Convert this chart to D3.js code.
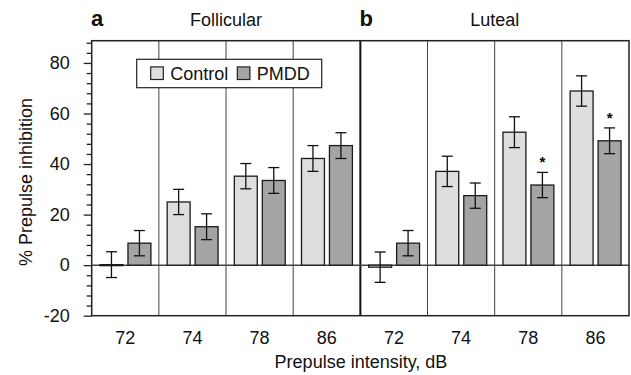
<!DOCTYPE html>
<html>
<head>
<meta charset="utf-8">
<script src="https://cdn.jsdelivr.net/npm/d3@7"></script>
<style>
  body { margin: 0; background: #fff; }
  svg { display: block; font-family: "Liberation Sans", Arial, Helvetica, sans-serif; }
</style>
</head>
<body>
<svg id="chart"></svg>
<script>
// values
const phases = ["Follicular", "Luteal"];
const panelLetters = ["a", "b"];
const intensities = ["72", "74", "78", "86"];
const groups = ["Control", "PMDD"];

const controlFollicular = [0.2, 25.0, 35.2, 42.2];
const controlFollicularErr = [5.1, 5.0, 5.0, 5.1];
const pmddFollicular = [8.7, 15.2, 33.5, 47.3];
const pmddFollicularErr = [5.0, 5.1, 5.1, 5.1];

const controlLuteal = [-0.8, 37.1, 52.6, 68.9];
const controlLutealErr = [6.0, 6.0, 6.1, 6.0];
const pmddLuteal = [8.7, 27.5, 31.7, 49.2];
const pmddLutealErr = [5.0, 5.0, 5.0, 5.1];
const pmddLutealSig = [false, false, true, true];

const yTicks = [-20, 0, 20, 40, 60, 80];

const width = 631, height = 375;
const margin = {left: 91.7, right: 2, top: 40.7, bottom: 59.3};

const svg = d3.select("#chart").attr("width", width).attr("height", height);

// build rows
const rows = [];
phases.forEach((ph, p) => {
  const cm = p === 0 ? controlFollicular : controlLuteal;
  const ce = p === 0 ? controlFollicularErr : controlLutealErr;
  const pm = p === 0 ? pmddFollicular : pmddLuteal;
  const pe = p === 0 ? pmddFollicularErr : pmddLutealErr;
  intensities.forEach((db, i) => {
    rows.push({key: ph + db, phase: ph, db: db, group: "Control", value: cm[i], err: ce[i], sig: false});
    rows.push({key: ph + db, phase: ph, db: db, group: "PMDD", value: pm[i], err: pe[i], sig: p === 1 && pmddLutealSig[i]});
  });
});
const keys = [];
phases.forEach(ph => intensities.forEach(db => keys.push(ph + db)));

const x0 = d3.scaleBand().domain(keys).range([margin.left, width - margin.right]);
const x1 = d3.scaleBand().domain(groups).range([8.3, 59.2]).paddingInner(0.18);
const y = d3.scaleLinear().domain([-20, 88.8]).range([height - margin.bottom, margin.top]);
const color = d3.scaleOrdinal().domain(groups).range(["#dedede", "#a4a4a4"]);

const x0l = x0.range()[0], x0r = x0.range()[1];

// separators
svg.append("g").selectAll("line")
  .data(keys.slice(1))
  .join("line")
  .attr("x1", d => x0(d)).attr("x2", d => x0(d))
  .attr("y1", y.range()[1]).attr("y2", y.range()[0])
  .attr("stroke", (d, i) => i === 3 ? "#111" : "#444")
  .attr("stroke-width", (d, i) => i === 3 ? 2 : 1);

// zero line
svg.append("line")
  .attr("x1", x0l).attr("x2", x0r)
  .attr("y1", y(0)).attr("y2", y(0))
  .attr("stroke", "#444").attr("stroke-width", 1.5);

// bars
const bar = svg.append("g").selectAll("g")
  .data(rows)
  .join("g")
  .attr("transform", d => `translate(${x0(d.key) + x1(d.group)},0)`);

bar.append("rect")
  .attr("y", d => y(Math.max(0, d.value)))
  .attr("width", x1.bandwidth())
  .attr("height", d => Math.max(1, Math.abs(y(d.value) - y(0))))
  .attr("fill", d => color(d.group))
  .attr("stroke", "#1a1a1a")
  .attr("stroke-width", 1.3);

// error bars
const cx = x1.bandwidth() / 2, cap = 5.5;
bar.append("line")
  .attr("x1", cx).attr("x2", cx)
  .attr("y1", d => y(d.value + d.err)).attr("y2", d => y(d.value - d.err))
  .attr("stroke", "#111").attr("stroke-width", 1.3);
bar.append("line")
  .attr("x1", cx - cap).attr("x2", cx + cap)
  .attr("y1", d => y(d.value + d.err)).attr("y2", d => y(d.value + d.err))
  .attr("stroke", "#111").attr("stroke-width", 1.3);
bar.append("line")
  .attr("x1", cx - cap).attr("x2", cx + cap)
  .attr("y1", d => y(d.value - d.err)).attr("y2", d => y(d.value - d.err))
  .attr("stroke", "#111").attr("stroke-width", 1.3);

// significance stars
bar.filter(d => d.sig).append("text")
  .attr("x", cx)
  .attr("y", d => y(d.value + d.err) - 5)
  .attr("text-anchor", "middle")
  .attr("font-size", 15)
  .attr("font-weight", "bold")
  .text("*");

// frame
svg.append("rect")
  .attr("x", x0l).attr("y", y.range()[1])
  .attr("width", x0r - x0l).attr("height", y.range()[0] - y.range()[1])
  .attr("fill", "none").attr("stroke", "#222").attr("stroke-width", 1.5);

// y axis
const yaxis = svg.append("g")
  .attr("transform", `translate(${x0l},0)`)
  .call(d3.axisLeft(y).tickValues(yTicks).tickSize(8).tickPadding(14).tickFormat(d => String(d)));
yaxis.select(".domain").remove();
yaxis.selectAll("line").attr("stroke", "#222").attr("stroke-width", 1.3);
yaxis.selectAll("text").attr("font-size", 18).attr("fill", "#111").attr("font-family", null);

const minor = svg.append("g")
  .attr("transform", `translate(${x0l},0)`)
  .call(d3.axisLeft(y).tickValues(d3.range(-20, 89, 4).filter(v => v % 20 !== 0)).tickSize(5).tickFormat(""));
minor.select(".domain").remove();
minor.selectAll("line").attr("stroke", "#222").attr("stroke-width", 1.3);

// x axis labels
const xaxis = svg.append("g")
  .attr("transform", `translate(0,${y.range()[0]})`)
  .call(d3.axisBottom(x0).tickSize(0).tickPadding(15.5).tickFormat(k => k.replace(/^\D+/, "")));
xaxis.select(".domain").remove();
xaxis.selectAll("text").attr("font-size", 18).attr("fill", "#111").attr("font-family", null);

// axis titles
svg.append("text")
  .attr("x", 361).attr("y", 368)
  .attr("text-anchor", "middle")
  .attr("font-size", 18).attr("fill", "#111")
  .text("Prepulse intensity, dB");

svg.append("text")
  .attr("transform", "rotate(-90)")
  .attr("x", -182).attr("y", 32)
  .attr("text-anchor", "middle")
  .attr("font-size", 18).attr("fill", "#111")
  .text("% Prepulse inhibition");

// panel titles
phases.forEach((ph, p) => {
  const left = x0(ph + intensities[0]);
  const right = x0(ph + intensities[3]) + x0.bandwidth();
  svg.append("text")
    .attr("x", (left + right) / 2).attr("y", 26)
    .attr("text-anchor", "middle")
    .attr("font-size", 18).attr("fill", "#111")
    .text(ph);
});
svg.append("text").attr("x", 91).attr("y", 26)
  .attr("font-size", 22).attr("font-weight", "bold").attr("fill", "#111")
  .text(panelLetters[0]);
svg.append("text").attr("x", 359.5).attr("y", 26)
  .attr("font-size", 22).attr("font-weight", "bold").attr("fill", "#111")
  .text(panelLetters[1]);

// legend
const legend = svg.append("g").attr("transform", "translate(136.7,59.3)");
legend.append("rect")
  .attr("width", 185).attr("height", 28.4)
  .attr("fill", "#fff").attr("stroke", "#222").attr("stroke-width", 1.2);
const legendX = [14, 100.6];
groups.forEach((g, i) => {
  legend.append("rect")
    .attr("x", legendX[i]).attr("y", 7.6)
    .attr("width", 12.6).attr("height", 12.6)
    .attr("fill", color(g)).attr("stroke", "#222").attr("stroke-width", 1.2);
  legend.append("text")
    .attr("x", legendX[i] + 19.5).attr("y", 21)
    .attr("font-size", 18).attr("fill", "#111")
    .text(g);
});
</script>
</body>
</html>
